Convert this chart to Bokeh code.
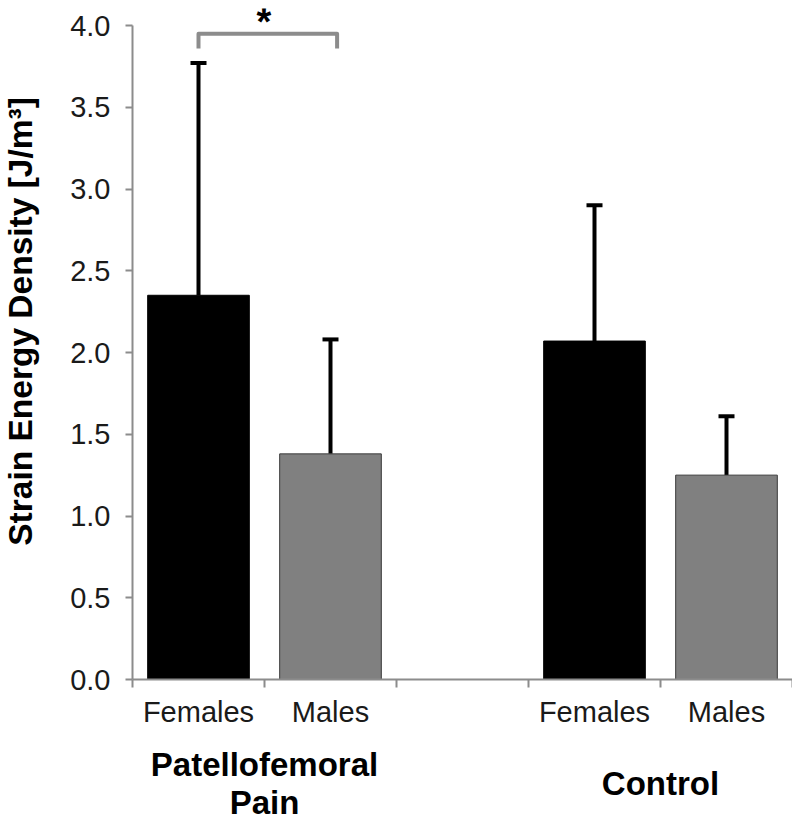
import math
from bokeh.plotting import figure
from bokeh.layouts import column, row
from bokeh.models import (Range1d, FixedTicker, Whisker, TeeHead,
                          ColumnDataSource, NumeralTickFormatter)
from bokeh.embed import file_html
from bokeh.resources import INLINE
from bokeh.core.properties import value

# ---- data ----
group_lines = ["Patellofemoral", "Pain", "Control"]
group_centers = [1.0, 1.0, 4.0]
sex_labels = ["Females", "Males", "Females", "Males"]
slots = [0.5, 1.5, 3.5, 4.5]
slot_edges = [0, 1, 2, 3, 4, 5]
means = [2.35, 1.38, 2.07, 1.25]
upper = [3.77, 2.08, 2.90, 1.61]
bar_colors = ["#000000", "#808080", "#000000", "#808080"]
line_colors = ["#000000", "#3a3a3a", "#000000", "#3a3a3a"]
y_ticks = [0.0, 0.5, 1.0, 1.5, 2.0, 2.5, 3.0, 3.5, 4.0]
sig_x = [0.5, 0.5, 1.55, 1.55]
sig_y = [3.86, 3.95, 3.95, 3.86]
sig_mark = "*"
y_title = "Strain Energy Density [J/m³]"

FONT = "Liberation Sans"
AX = "#8c8c8c"
TOP = 4.104

# ---- main plot ----
yr = Range1d(0, TOP)
xr = Range1d(0, 5)
p = figure(width=744, height=739, x_range=xr, y_range=yr,
           output_backend="svg", toolbar_location=None,
           min_border_left=84, min_border_right=0, min_border_top=8,
           min_border_bottom=60)
p.background_fill_color = "white"
p.border_fill_color = "white"
p.outline_line_color = None
p.xgrid.visible = False
p.ygrid.visible = False

src = ColumnDataSource(dict(x=slots, top=means, up=upper, fill=bar_colors, line=line_colors))
p.vbar(x="x", top="top", width=0.77, bottom=0, source=src,
       fill_color="fill", line_color="line", line_width=1)

w = Whisker(source=src, base="x", lower="top", upper="up", dimension="height",
            line_color="black", line_width=4, lower_head=None,
            upper_head=TeeHead(size=16, line_color="black", line_width=4))
p.add_layout(w)

p.line(sig_x, sig_y, line_color="#8c8c8c", line_width=4, line_join="round")
p.text(x=[(sig_x[0] + sig_x[-1]) / 2 - 0.03], y=[4.02], text=[sig_mark],
       text_align="center", text_baseline="alphabetic", text_font=value(FONT),
       text_font_style="bold", text_font_size="38px", text_color="black")

# x axis
xa = p.xaxis[0]
xa.ticker = FixedTicker(ticks=slots, minor_ticks=slot_edges)
xa.major_label_overrides = {s: l for s, l in zip(slots, sex_labels)}
xa.major_tick_line_color = None
xa.major_tick_out = 0
xa.major_tick_in = 0
xa.minor_tick_line_color = AX
xa.minor_tick_line_width = 2
xa.minor_tick_out = 8
xa.minor_tick_in = 0
xa.axis_line_color = AX
xa.axis_line_width = 2
xa.major_label_standoff = 8
xa.major_label_text_font = FONT
xa.major_label_text_font_size = "29px"
xa.major_label_text_color = "#1a1a1a"

# y axis
ya = p.yaxis[0]
ya.ticker = FixedTicker(ticks=y_ticks)
ya.bounds = (0, 4)
ya.formatter = NumeralTickFormatter(format="0.0")
ya.minor_tick_line_color = None
ya.major_tick_line_color = AX
ya.major_tick_line_width = 2
ya.major_tick_out = 7
ya.major_tick_in = 0
ya.axis_line_color = AX
ya.axis_line_width = 2
ya.major_label_standoff = 15
ya.major_label_text_font = FONT
ya.major_label_text_font_size = "29px"
ya.major_label_text_color = "#1a1a1a"

# ---- y title strip ----
ylab = figure(width=48, height=739, x_range=Range1d(0, 1), y_range=yr,
              output_backend="svg", toolbar_location=None,
              min_border_left=0, min_border_right=0, min_border_top=8,
              min_border_bottom=60)
ylab.axis.visible = False
ylab.grid.visible = False
ylab.outline_line_color = None
ylab.text(x=[0.41], y=[2.19], text=[y_title], angle=math.pi / 2,
          text_align="center", text_baseline="middle", text_font=value(FONT),
          text_font_style="bold", text_font_size="33.5px", text_color="black")

# ---- group labels strip ----
g = figure(width=792, height=81, x_range=xr, y_range=Range1d(0, 1),
           output_backend="svg", toolbar_location=None,
           min_border_left=132, min_border_right=0, min_border_top=0,
           min_border_bottom=0)
g.axis.visible = False
g.grid.visible = False
g.outline_line_color = None
g.text(x=group_centers, y=[0.69, 0.222, 0.457], text=group_lines,
       text_align="center", text_baseline="alphabetic", text_font=value(FONT),
       text_font_style="bold", text_font_size="33px", text_color="black")

layout = column(row(ylab, p), g)
open("out.html", "w").write(file_html(layout, INLINE))
